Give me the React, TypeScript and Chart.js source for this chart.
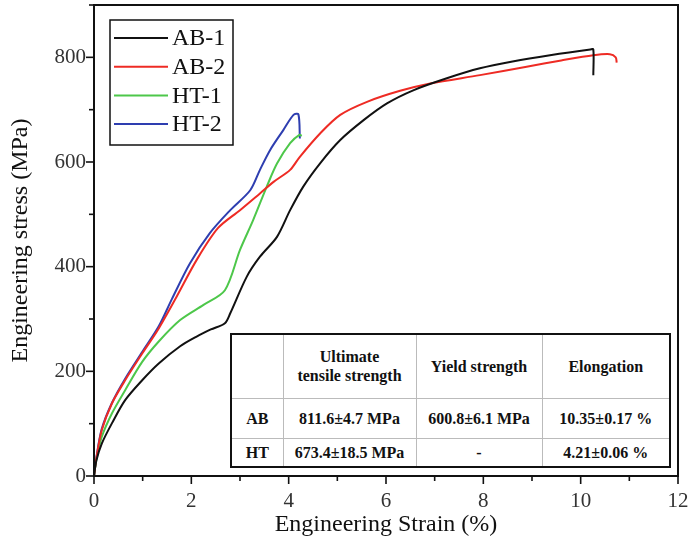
import React, { useEffect, useRef } from "react";
import { Chart, registerables } from "chart.js";

Chart.register(...registerables);

// ---- Data (strain %, stress MPa) ----
const ab1Strain = [0, 0.05, 0.16, 0.37, 0.64, 0.99, 1.33, 1.77, 2.1, 2.4, 2.69, 2.8, 3.14, 3.41, 3.76, 4.03, 4.3, 4.65, 5.06, 5.54, 6.02, 6.56, 7.25, 7.93, 8.6, 9.37, 10.2, 10.26, 10.26];
const ab1Stress = [0, 30, 62, 101, 145, 183, 215, 248, 266, 280, 292, 311, 381, 419, 457, 508, 553, 598, 642, 680, 712, 737, 760, 779, 792, 804, 815, 815, 766];

const ab2Strain = [0, 0.05, 0.16, 0.37, 0.64, 0.99, 1.33, 1.7, 2.11, 2.55, 3.0, 3.41, 3.69, 4.03, 4.23, 4.65, 5.06, 5.61, 6.29, 6.91, 7.93, 8.89, 9.6, 10.26, 10.6, 10.72, 10.74];
const ab2Stress = [0, 35, 88, 139, 183, 234, 282, 343, 413, 474, 508, 540, 562, 585, 610, 655, 690, 715, 736, 750, 766, 782, 794, 804, 806, 800, 790];

const ht1Strain = [0, 0.05, 0.16, 0.37, 0.64, 0.99, 1.33, 1.77, 2.25, 2.69, 3.0, 3.27, 3.55, 3.76, 4.03, 4.22, 4.27];
const ht1Stress = [0, 32, 75, 120, 164, 218, 257, 298, 327, 355, 432, 489, 553, 597, 636, 652, 650];

const ht2Strain = [0, 0.05, 0.16, 0.37, 0.64, 0.99, 1.33, 1.6, 1.97, 2.38, 2.8, 3.21, 3.41, 3.62, 3.89, 4.1, 4.2, 4.23];
const ht2Stress = [0, 36, 90, 140, 186, 237, 286, 338, 406, 464, 508, 546, 585, 623, 661, 690, 691, 645];

const seriesLabels = ["AB-1", "AB-2", "HT-1", "HT-2"];
const seriesColors = ["#111111", "#ee2b24", "#4dc74a", "#2e3eb0"];

const xTicks = [0, 2, 4, 6, 8, 10, 12];
const yTicks = [0, 200, 400, 600, 800];

// ---- Table ----
const tableHeader = ["", "Ultimate\ntensile strength", "Yield strength", "Elongation"];
const tableRowAB = ["AB", "811.6±4.7 MPa", "600.8±6.1 MPa", "10.35±0.17 %"];
const tableRowHT = ["HT", "673.4±18.5 MPa", "-", "4.21±0.06 %"];

const SERIF = "'Liberation Serif', 'Times New Roman', serif";

function pts(xs: number[], ys: number[]) {
  return xs.map((x, i) => ({ x, y: ys[i] }));
}

const framePlugin = {
  id: "frameTicksLegend",
  afterDraw(chart: any) {
    const ctx = chart.ctx;
    const { left, right, top, bottom } = chart.chartArea;
    const xs = chart.scales.x;
    const ys = chart.scales.y;
    ctx.save();
    ctx.strokeStyle = "#111";
    ctx.lineWidth = 2;
    ctx.strokeRect(left, top, right - left, bottom - top);
    // ticks
    ctx.lineWidth = 1.6;
    for (let v = 0; v <= 12; v += 1) {
      const px = xs.getPixelForValue(v);
      const len = v % 2 === 0 ? 8 : 5;
      ctx.beginPath();
      ctx.moveTo(px, bottom);
      ctx.lineTo(px, bottom + len);
      ctx.stroke();
    }
    for (let v = 0; v <= 900; v += 100) {
      const py = ys.getPixelForValue(v);
      const len = v % 200 === 0 ? 8 : 5;
      ctx.beginPath();
      ctx.moveTo(left, py);
      ctx.lineTo(left - len, py);
      ctx.stroke();
    }
    // legend
    const bx = 110, by = 20, bw = 123, bh = 125;
    ctx.fillStyle = "#fff";
    ctx.fillRect(bx, by, bw, bh);
    ctx.lineWidth = 1.5;
    ctx.strokeStyle = "#111";
    ctx.strokeRect(bx, by, bw, bh);
    ctx.font = `24px ${SERIF}`;
    ctx.textBaseline = "middle";
    ctx.textAlign = "left";
    chart.data.datasets.forEach((ds: any, i: number) => {
      const ry = 38 + i * 28.7;
      ctx.strokeStyle = ds.borderColor;
      ctx.lineWidth = 2;
      ctx.beginPath();
      ctx.moveTo(114, ry);
      ctx.lineTo(168, ry);
      ctx.stroke();
      ctx.fillStyle = "#111";
      ctx.fillText(ds.label, 172, ry + 1);
    });
    ctx.restore();
  },
};

function zeroPad(s: any) {
  s.paddingLeft = 0;
  s.paddingRight = 0;
  s.paddingTop = 0;
  s.paddingBottom = 0;
}

export default function App() {
  const ref = useRef<HTMLCanvasElement>(null);
  useEffect(() => {
    if (!ref.current) return;
    const data = [
      pts(ab1Strain, ab1Stress),
      pts(ab2Strain, ab2Stress),
      pts(ht1Strain, ht1Stress),
      pts(ht2Strain, ht2Stress),
    ];
    const chart = new Chart(ref.current, {
      type: "line",
      data: {
        datasets: data.map((d, i) => ({
          label: seriesLabels[i],
          data: d,
          borderColor: seriesColors[i],
          backgroundColor: seriesColors[i],
          borderWidth: 2,
          pointRadius: 0,
          tension: 0.3,
          fill: false,
        })),
      },
      options: {
        responsive: false,
        animation: false,
        layout: { padding: { top: 5, right: 10, left: 0, bottom: 0 } },
        plugins: { legend: { display: false }, tooltip: { enabled: false } },
        scales: {
          x: {
            type: "linear",
            min: 0,
            max: 12,
            afterFit: (s: any) => { s.height = 73; zeroPad(s); },
            afterBuildTicks: (s: any) => { s.ticks = xTicks.map((v) => ({ value: v })); },
            grid: { display: false, drawTicks: false },
            border: { display: false },
            ticks: {
              autoSkip: false,
              maxRotation: 0,
              padding: 13,
              color: "#333",
              font: { family: SERIF, size: 21 },
            },
            title: {
              display: true,
              text: "Engineering Strain (%)",
              color: "#111",
              font: { family: SERIF, size: 24 },
              padding: { top: 0, bottom: 10 },
            },
          },
          y: {
            type: "linear",
            min: 0,
            max: 900,
            afterFit: (s: any) => { s.width = 94; zeroPad(s); },
            afterBuildTicks: (s: any) => { s.ticks = yTicks.map((v) => ({ value: v })); },
            grid: { display: false, drawTicks: false },
            border: { display: false },
            ticks: {
              autoSkip: false,
              padding: 8,
              color: "#333",
              font: { family: SERIF, size: 21 },
            },
            title: {
              display: true,
              text: "Engineering stress (MPa)",
              color: "#111",
              font: { family: SERIF, size: 24 },
              padding: { top: 6, bottom: 0 },
            },
          },
        },
      },
      plugins: [framePlugin],
    });
    return () => chart.destroy();
  }, []);

  const colW = [52, 133, 126, 128];
  const rowH = [64, 40, 29];
  const rows = [tableHeader, tableRowAB, tableRowHT];
  const cellBorder = "1px solid #bbb";

  return (
    <div style={{ position: "absolute", left: 0, top: 0, width: 688, height: 549, background: "#fff" }}>
      <canvas ref={ref} width={688} height={549} style={{ display: "block" }} />
      <table
        style={{
          position: "absolute",
          left: 230,
          top: 333,
          width: 439,
          height: 133,
          borderCollapse: "collapse",
          tableLayout: "fixed",
          border: "2px solid #111",
          background: "#fff",
          fontFamily: SERIF,
          fontWeight: "bold",
          fontSize: 16,
          color: "#111",
        }}
      >
        <colgroup>
          {colW.map((w, i) => (
            <col key={i} style={{ width: w }} />
          ))}
        </colgroup>
        <tbody>
          {rows.map((r, ri) => (
            <tr key={ri} style={{ height: rowH[ri] }}>
              {r.map((c, ci) => (
                <td
                  key={ci}
                  style={{
                    border: cellBorder,
                    textAlign: "center",
                    verticalAlign: "middle",
                    padding: 0,
                    whiteSpace: "pre-line",
                    lineHeight: "19px",
                  }}
                >
                  {c}
                </td>
              ))}
            </tr>
          ))}
        </tbody>
      </table>
    </div>
  );
}
